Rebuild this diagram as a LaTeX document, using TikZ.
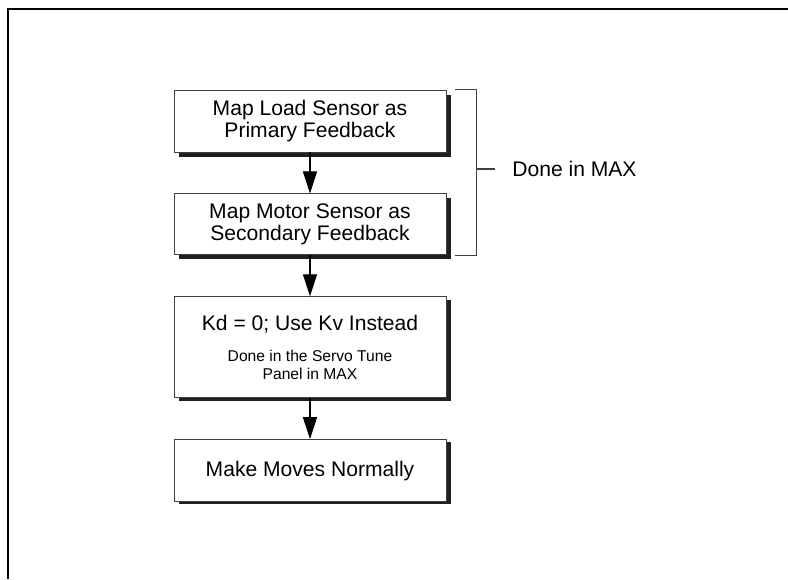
\documentclass[tikz,border=0pt]{standalone}
\usepackage{fontspec}
\setmainfont{Liberation Sans}
\usetikzlibrary{positioning,calc,arrows.meta}

\newcommand{\smalltxt}{\fontsize{8.9}{10.2}\selectfont}
\definecolor{shadowgray}{HTML}{231F20}

\begin{document}
\begin{tikzpicture}[x=0.02cm,y=-0.02cm,
    stepbox/.style={draw=black!75,line width=0.5pt,fill=white,
      minimum width=5.44cm,minimum height=1.24cm,align=center,
      font=\fontsize{12}{12.5}\selectfont},
    flow/.style={line width=0.6pt,-{Triangle[length=12.5pt,width=8pt]}},
    bracket/.style={draw=black!75,line width=0.6pt}]
    % keep the page the size of the reference
    \useasboundingbox (0,0) rectangle (788,579);
    % frame on the left and top
    \draw[line width=1.2pt] (8,579) -- (8,9) -- (788,9);
    % dark shadows first, the boxes go on top of them
    \fill[shadowgray] (179,95) rectangle (451,157);
    \fill[shadowgray] (179,198) rectangle (451,259);
    \fill[shadowgray] (179,300) rectangle (451,401);
    \fill[shadowgray] (179,442) rectangle (451,504);
    % the steps, one under the other
    \node[stepbox] (loadmap) at (310,121) {Map Load Sensor as\\Primary Feedback};
    \node[stepbox,minimum height=1.22cm,below=0.82cm of loadmap] (motormap)
      {Map Motor Sensor as\\Secondary Feedback};
    \node[stepbox,minimum height=2.02cm,below=0.82cm of motormap] (kdzero)
      {Kd = 0; Use Kv Instead\\[5pt]{\smalltxt Done in the Servo Tune}\\[-2.3pt]{\smalltxt Panel in MAX}};
    \node[stepbox,below=0.82cm of kdzero] (moves) {Make Moves Normally};
    \draw[flow] (loadmap) -- (motormap);
    \draw[flow] (motormap) -- (kdzero);
    \draw[flow] (kdzero) -- (moves);
    % bracket round the first two steps
    \draw[bracket] ($(loadmap.north east)+(9,0)$) -| ($(motormap.south east)+(30,0)$)
      -- ($(motormap.south east)+(9,0)$);
    \coordinate (brk) at (476,169);
    \node[anchor=west,inner sep=0pt,font=\fontsize{12}{12.5}\selectfont] (donemax) at (512,169) {Done in MAX};
    \draw[bracket] (brk) -- ($(donemax.west)+(-17,0)$);
\end{tikzpicture}
\end{document}
